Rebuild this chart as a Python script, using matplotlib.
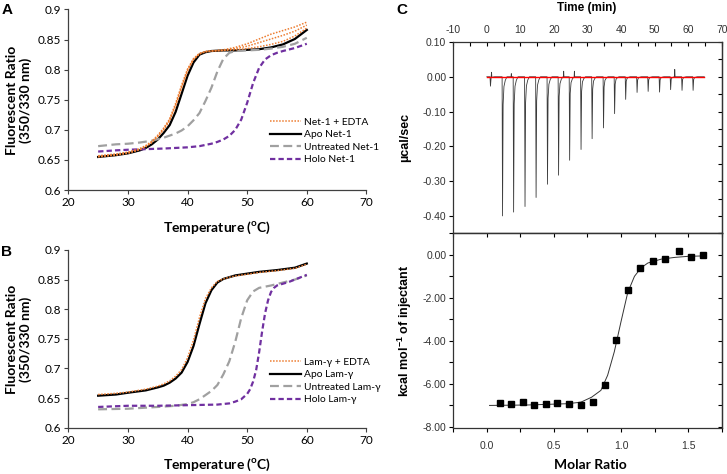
import matplotlib.pyplot as plt
from matplotlib.ticker import MultipleLocator, FuncFormatter, FormatStrFormatter

plt.rcParams['font.family'] = ['Lato', 'DejaVu Sans']
plt.rcParams['axes.unicode_minus'] = False

# ---------------- panel A : Net-1 ----------------
t_net = [25, 28, 30, 32, 33, 34, 35, 36, 37, 38, 39, 40, 41, 42, 43, 44, 46, 48, 50, 52, 54, 56, 58, 60]
apo_net = [0.655, 0.658, 0.661, 0.666, 0.670, 0.676, 0.684, 0.695, 0.708, 0.730, 0.760, 0.790,
           0.812, 0.825, 0.829, 0.831, 0.832, 0.832, 0.833, 0.834, 0.837, 0.842, 0.851, 0.866]
edta_net_1 = [0.656, 0.659, 0.662, 0.668, 0.673, 0.680, 0.690, 0.702, 0.717, 0.742, 0.772, 0.800,
              0.818, 0.827, 0.830, 0.831, 0.833, 0.837, 0.843, 0.851, 0.859, 0.865, 0.871, 0.879]
edta_net_2 = [0.657, 0.660, 0.663, 0.669, 0.674, 0.681, 0.691, 0.703, 0.718, 0.744, 0.774, 0.801,
              0.818, 0.827, 0.830, 0.831, 0.832, 0.835, 0.839, 0.845, 0.851, 0.857, 0.864, 0.874]
edta_net_3 = [0.655, 0.658, 0.661, 0.667, 0.672, 0.679, 0.689, 0.700, 0.715, 0.740, 0.770, 0.798,
              0.817, 0.826, 0.830, 0.831, 0.832, 0.833, 0.835, 0.838, 0.842, 0.847, 0.856, 0.869]

t_untr_net = [25, 28, 30, 32, 34, 36, 38, 39, 40, 41, 42, 43, 44, 45, 46, 47, 48, 50, 52, 54, 56, 58, 60]
untr_net = [0.673, 0.676, 0.677, 0.679, 0.682, 0.687, 0.694, 0.699, 0.706, 0.716, 0.728, 0.748,
            0.770, 0.797, 0.818, 0.828, 0.831, 0.832, 0.833, 0.835, 0.838, 0.843, 0.853]

t_holo_net = [25, 28, 30, 33, 36, 38, 40, 42, 43, 44, 45, 46, 47, 48, 49, 50, 51, 52, 53, 54, 55, 56, 58, 60]
holo_net = [0.664, 0.666, 0.667, 0.668, 0.669, 0.670, 0.671, 0.673, 0.675, 0.677, 0.680, 0.684,
            0.690, 0.700, 0.717, 0.745, 0.778, 0.803, 0.817, 0.824, 0.828, 0.831, 0.836, 0.843]

# ---------------- panel B : Lam-gamma ----------------
t_lam = [25, 28, 30, 33, 35, 36, 37, 38, 39, 40, 41, 42, 43, 44, 45, 46, 47, 48, 50, 52, 55, 58, 60]
apo_lam = [0.654, 0.656, 0.659, 0.663, 0.668, 0.671, 0.676, 0.683, 0.693, 0.711, 0.738, 0.775,
           0.810, 0.832, 0.845, 0.851, 0.854, 0.857, 0.860, 0.863, 0.866, 0.870, 0.877]
edta_lam = [0.656, 0.658, 0.660, 0.665, 0.670, 0.674, 0.679, 0.687, 0.698, 0.718, 0.748, 0.786,
            0.818, 0.836, 0.847, 0.851, 0.854, 0.856, 0.859, 0.862, 0.865, 0.869, 0.876]

t_untr_lam = [25, 30, 35, 38, 40, 41, 42, 43, 44, 45, 46, 47, 48, 49, 50, 51, 52, 54, 56, 58, 60]
untr_lam = [0.631, 0.632, 0.635, 0.637, 0.640, 0.643, 0.648, 0.655, 0.662, 0.672, 0.690, 0.712,
            0.745, 0.785, 0.815, 0.830, 0.836, 0.840, 0.845, 0.850, 0.857]

t_holo_lam = [25, 30, 35, 40, 45, 47, 48, 49, 50, 50.5, 51, 51.5, 52, 52.5, 53, 53.5, 54, 54.5, 55, 57, 60]
holo_lam = [0.635, 0.637, 0.637, 0.638, 0.639, 0.641, 0.644, 0.648, 0.657, 0.665, 0.678, 0.697,
            0.727, 0.762, 0.793, 0.815, 0.829, 0.836, 0.840, 0.846, 0.858]

# ---------------- panel C : ITC ----------------
inj_time = [1.0, 4.6, 7.9, 11.3, 14.6, 18.0, 21.3, 24.6, 28.0, 31.3, 34.7, 38.0, 41.3, 44.7,
            48.0, 51.4, 54.7, 58.1, 61.4]
inj_depth = [-0.027, -0.400, -0.389, -0.373, -0.347, -0.309, -0.283, -0.240, -0.209, -0.178,
             -0.147, -0.106, -0.065, -0.045, -0.042, -0.044, -0.037, -0.039, -0.039]
blip_time = [1.4, 7.3, 22.9, 26.1, 56.0]
blip_height = [0.013, 0.009, 0.016, 0.016, 0.021]
# peak profile (time after injection, fraction of peak depth)
spike_dt = [-0.05, 0.08, 0.25, 0.5, 0.9, 1.4]
spike_frac = [0.0, 1.0, 0.2, 0.07, 0.025, 0.0]
baseline_t = [0.0, 64.8]
baseline_v = [0.0, 0.0]

molar_ratio = [0.10, 0.18, 0.27, 0.35, 0.44, 0.52, 0.61, 0.70, 0.79, 0.88, 0.965, 1.05,
               1.14, 1.24, 1.33, 1.43, 1.52, 1.61]
heat = [-6.87, -6.92, -6.83, -6.97, -6.94, -6.90, -6.94, -6.99, -6.83, -6.05, -3.96, -1.63,
        -0.59, -0.28, -0.20, 0.20, -0.08, 0.00]
fit_x = [0.02, 0.3, 0.6, 0.7, 0.78, 0.85, 0.9, 0.95, 1.0, 1.05, 1.1, 1.15, 1.2, 1.3, 1.4, 1.5, 1.62]
fit_y = [-7.0, -6.98, -6.92, -6.85, -6.62, -6.3, -5.6, -4.5, -3.1, -1.75, -1.0, -0.6, -0.38,
         -0.2, -0.12, -0.07, -0.05]

orange = '#ED7D31'
grey = '#A0A0A0'
purple = '#7030A0'

fig = plt.figure(figsize=(7.27, 4.74), dpi=100)
axA = fig.add_axes([0.094, 0.599, 0.410, 0.381])
axB = fig.add_axes([0.094, 0.0977, 0.410, 0.375])
axR = fig.add_axes([0.6235, 0.5078, 0.3692, 0.4036])
axI = fig.add_axes([0.6235, 0.0970, 0.3692, 0.4108])


def style_dsf(ax):
    ax.set_xlim(20, 70)
    ax.set_ylim(0.6, 0.9)
    ax.xaxis.set_major_locator(MultipleLocator(10))
    ax.yaxis.set_major_locator(MultipleLocator(0.05))
    ax.yaxis.set_major_formatter(FuncFormatter(lambda v, p: f'{v:g}'))
    ax.spines['top'].set_visible(False)
    ax.spines['right'].set_visible(False)
    for s in ['left', 'bottom']:
        ax.spines[s].set_color('#404040')
        ax.spines[s].set_linewidth(0.9)
    ax.tick_params(direction='out', length=3, width=0.8, labelsize=8.5, color='#404040', pad=2)


def draw_dsf(ax, t_apo, apo, edta_sets, t_u, untr, t_h, holo, names):
    for i, e in enumerate(edta_sets):
        ax.plot(t_apo, e, color=orange, lw=1.1, dashes=(1, 1),
                label=names[0] if i == 0 else None, zorder=3)
    ax.plot(t_apo, apo, color='black', lw=1.6, label=names[1], zorder=2)
    ax.plot(t_u, untr, color=grey, lw=1.6, dashes=(4, 2), label=names[2])
    ax.plot(t_h, holo, color=purple, lw=1.6, dashes=(2.4, 1.4), label=names[3])
    style_dsf(ax)


draw_dsf(axA, t_net, apo_net, [edta_net_1, edta_net_2, edta_net_3], t_untr_net, untr_net,
         t_holo_net, holo_net, ['Net-1 + EDTA', 'Apo Net-1', 'Untreated Net-1', 'Holo Net-1'])
draw_dsf(axB, t_lam, apo_lam, [edta_lam], t_untr_lam, untr_lam, t_holo_lam, holo_lam,
         ['Lam-γ + EDTA', 'Apo Lam-γ', 'Untreated Lam-γ', 'Holo Lam-γ'])

for ax, ytop in [(axA, 0.401), (axB, 0.395)]:
    ax.legend(loc='upper left', bbox_to_anchor=(0.676, ytop), frameon=False, fontsize=7.4,
              handlelength=3.0, handletextpad=0.35, labelspacing=0.32, borderpad=0,
              borderaxespad=0)

# y / x labels of A and B
for yc in [100 / 474, 339 / 474]:
    fig.text(19 / 727, 1 - yc, 'Fluorescent Ratio\n(350/330 nm)', rotation=90, ha='center',
             va='center', fontsize=10, fontweight='bold', linespacing=1.15)
fig.text(217 / 727, 1 - 228 / 474, 'Temperature ($^{\\mathregular{o}}$C)', ha='center', va='center',
         fontsize=10, fontweight='bold')
fig.text(217 / 727, 1 - 465 / 474, 'Temperature ($^{\\mathregular{o}}$C)', ha='center', va='center',
         fontsize=10, fontweight='bold')

# panel letters
for x, y, s in [(7, 10, 'A'), (7, 252, 'B'), (402, 10, 'C')]:
    fig.text(x / 727, 1 - y / 474, s, ha='center', va='center', fontsize=11, fontweight='bold',
             family='Liberation Sans')

# ---------------- raw ITC trace ----------------
pts = [(baseline_t[0], 0.0)]
for t0, d in zip(inj_time, inj_depth):
    for dt, f in zip(spike_dt, spike_frac):
        pts.append((t0 + dt, d * f))
for t0, h in zip(blip_time, blip_height):
    pts += [(t0 - 0.08, 0.0), (t0, h), (t0 + 0.08, 0.0)]
pts.append((baseline_t[1], 0.0))
pts.sort(key=lambda p: p[0])
raw_t = [p[0] for p in pts]
raw_v = [p[1] for p in pts]

c_font = 'Liberation Sans'
c_col = '#333333'

axR.plot(raw_t, raw_v, color='#3a3a3a', lw=0.6)
axR.plot(baseline_t, baseline_v, color='red', lw=1.0)
axR.set_xlim(-10, 70)
axR.set_ylim(-0.45, 0.10)
axR.xaxis.tick_top()
axR.xaxis.set_major_locator(MultipleLocator(10))
axR.xaxis.set_minor_locator(MultipleLocator(5))
axR.yaxis.set_major_locator(MultipleLocator(0.1))
axR.yaxis.set_minor_locator(MultipleLocator(0.05))
axR.yaxis.set_major_formatter(FormatStrFormatter('%.2f'))
axR.tick_params(axis='x', which='both', direction='in', length=3, width=0.8, labelsize=7.5,
                labelcolor=c_col, pad=5)
axR.tick_params(axis='y', which='both', direction='out', length=3, width=0.8, labelsize=7.5,
                labelcolor=c_col, pad=2)
axR.tick_params(axis='y', which='minor', length=0)
axR.set_ylabel('µcal/sec', fontsize=9, fontweight='bold', family=c_font, labelpad=8)
fig.text(587 / 727, 1 - 8 / 474, 'Time (min)', ha='center', va='center', fontsize=8.5,
         fontweight='bold', family=c_font)
rR = axR.secondary_yaxis('right')
rR.yaxis.set_major_locator(MultipleLocator(0.05))
rR.tick_params(direction='in', length=3, width=0.8, labelright=False)

axI.plot(fit_x, fit_y, color='#333333', lw=0.7)
axI.plot(molar_ratio, heat, 's', color='black', ms=4.5)
axI.set_xlim(-0.25, 1.75)
axI.set_ylim(-8.05, 1.0)
axI.xaxis.set_major_locator(MultipleLocator(0.5))
axI.xaxis.set_minor_locator(MultipleLocator(0.25))
axI.xaxis.set_major_formatter(FormatStrFormatter('%.1f'))
axI.yaxis.set_major_locator(MultipleLocator(2))
axI.yaxis.set_minor_locator(MultipleLocator(1))
axI.yaxis.set_major_formatter(FormatStrFormatter('%.2f'))
axI.tick_params(which='both', direction='out', length=3, width=0.8, labelsize=7.5,
                labelcolor=c_col, pad=2)
axI.tick_params(axis='x', pad=6)
axI.set_ylabel('kcal mol$^{\\mathregular{-1}}$ of injectant', fontsize=9, fontweight='bold',
               family=c_font, labelpad=6)
fig.text(590 / 727, 1 - 465 / 474, 'Molar Ratio', ha='center', va='center', fontsize=10,
         fontweight='bold')
tI = axI.secondary_xaxis('top')
tI.xaxis.set_major_locator(MultipleLocator(0.25))
tI.tick_params(direction='in', length=3, width=0.8, labeltop=False)
rI = axI.secondary_yaxis('right')
rI.yaxis.set_major_locator(MultipleLocator(1))
rI.tick_params(direction='in', length=3, width=0.8, labelright=False)

for ax in [axR, axI, rR, rI, tI]:
    for s in ax.spines.values():
        s.set_linewidth(0.9)
        s.set_color('#333333')
for ax in [axR, axI]:
    for lab in ax.get_xticklabels() + ax.get_yticklabels():
        lab.set_family(c_font)

fig.savefig('out.png', dpi=100)
